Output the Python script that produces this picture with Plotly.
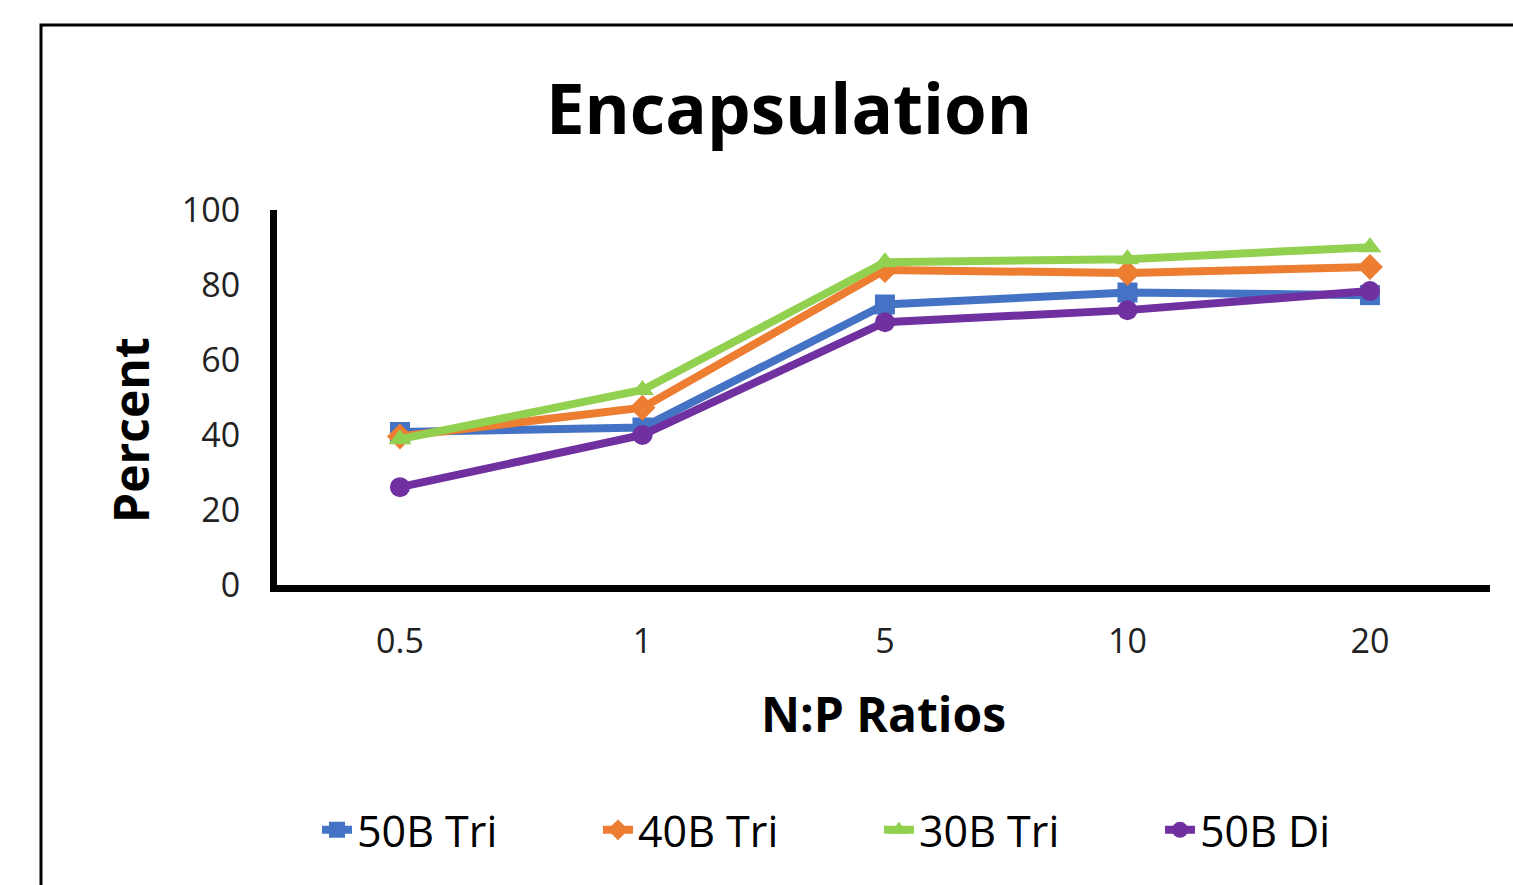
import plotly.graph_objects as go

categories = ["0.5", "1", "5", "10", "20"]
s50b_tri = [40.8, 42.0, 74.8, 78.0, 77.3]
s40b_tri = [39.6, 47.3, 84.0, 83.2, 84.8]
s30b_tri = [38.9, 52.0, 86.1, 86.9, 90.1]
s50b_di = [26.1, 40.0, 70.1, 73.3, 78.4]
y_ticks = [0, 20, 40, 60, 80, 100]

series = [
    ("50B Tri", s50b_tri, "#4472C4", "square"),
    ("40B Tri", s40b_tri, "#ED7D31", "diamond"),
    ("30B Tri", s30b_tri, "#92D050", "triangle-up"),
    ("50B Di", s50b_di, "#7030A0", "circle"),
]

FONT = "Open Sans"

fig = go.Figure()
for name, vals, color, sym in series:
    fig.add_trace(go.Scatter(
        x=categories, y=vals, name=name, mode="lines+markers",
        line=dict(color=color, width=8),
        marker=dict(symbol=sym, size=20, color=color),
    ))

fig.update_layout(
    width=1513, height=885,
    margin=dict(l=277, r=23, t=210, b=300, autoexpand=False),
    paper_bgcolor="white", plot_bgcolor="white",
    font=dict(family=FONT, color="black", size=32),
    title=dict(text="<b>Encapsulation</b>", x=0.5215, xanchor="center",
               y=1 - 110 / 885, yanchor="middle",
               font=dict(family=FONT, size=69, color="black")),
    showlegend=True,
    legend=dict(orientation="h", x=(317 - 277) / 1213, xanchor="left", y=-0.653, yanchor="middle",
                font=dict(family=FONT, size=43, color="black"),
                entrywidth=236, entrywidthmode="pixels", traceorder="normal"),
    shapes=[dict(type="rect", xref="paper", yref="paper",
                 x0=(41 - 277) / 1213, x1=1.1, y0=-0.9, y1=(585 - 25) / 375,
                 line=dict(color="black", width=3), fillcolor="rgba(0,0,0,0)", layer="below")],
    annotations=[
        dict(text="<b>N:P Ratios</b>", xref="paper", yref="paper",
             x=(884 - 277) / 1213, y=(585 - 713) / 375, xanchor="center", yanchor="middle",
             showarrow=False, font=dict(family=FONT, size=48, color="black")),
        dict(text="<b>Percent</b>", xref="paper", yref="paper", textangle=-90,
             x=(130 - 277) / 1213, y=(585 - 430) / 375, xanchor="center", yanchor="middle",
             showarrow=False, font=dict(family=FONT, size=48, color="black")),
    ],
)

fig.update_xaxes(
    type="category", range=[-0.507, 4.495], showline=True, linecolor="black", linewidth=7,
    showgrid=False, ticks="", ticklabelstandoff=20, automargin=False,
    tickfont=dict(family=FONT, size=34, color="#222"),
)
fig.update_yaxes(
    range=[0, 100], tickvals=y_ticks, showline=True, linecolor="black", linewidth=7,
    showgrid=False, ticks="", zeroline=False, ticklabelstandoff=23, automargin=False,
    tickfont=dict(family=FONT, size=34, color="#222"),
)

fig.write_html("out.html")
